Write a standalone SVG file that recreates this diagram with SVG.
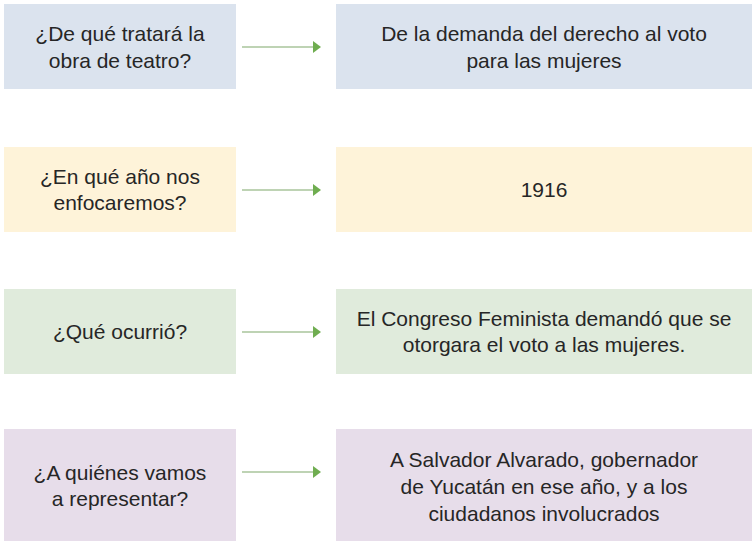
<svg xmlns="http://www.w3.org/2000/svg" width="752" height="541" viewBox="0 0 752 541">
<style>
.t{font-family:"Liberation Sans",Arial,sans-serif;font-size:21px;fill:#262626;text-anchor:middle}
.blue{fill:#dbe3ee}.yel{fill:#fef3d9}.grn{fill:#e0ebdc}.pur{fill:#e7ddea}
.c{stroke:#a9c59b;stroke-width:1.6;fill:none;marker-end:url(#ah)}
</style>
<defs>
<marker id="ah" viewBox="0 0 8 12" refX="1" refY="6" markerWidth="8" markerHeight="12" markerUnits="userSpaceOnUse" orient="auto">
<path d="M0,0 L8,6 L0,12 Z" fill="#6fad50"/>
</marker>
</defs>
<rect width="752" height="541" fill="#ffffff"/>
<g id="q1"><rect class="blue" x="4" y="4" width="232" height="85"/>
<text class="t" x="120" y="41">¿De qué tratará la</text><text class="t" x="120" y="68">obra de teatro?</text></g>
<g id="a1"><rect class="blue" x="336" y="4" width="416" height="85"/>
<text class="t" x="544" y="41">De la demanda del derecho al voto</text><text class="t" x="544" y="68">para las mujeres</text></g>
<g id="q2"><rect class="yel" x="4" y="147" width="232" height="85"/>
<text class="t" x="120" y="184">¿En qué año nos</text><text class="t" x="120" y="210">enfocaremos?</text></g>
<g id="a2"><rect class="yel" x="336" y="147" width="416" height="85"/>
<text class="t" x="544" y="197">1916</text></g>
<g id="q3"><rect class="grn" x="4" y="289" width="232" height="85"/>
<text class="t" x="120" y="339">¿Qué ocurrió?</text></g>
<g id="a3"><rect class="grn" x="336" y="289" width="416" height="85"/>
<text class="t" x="544" y="326">El Congreso Feminista demandó que se</text><text class="t" x="544" y="352">otorgara el voto a las mujeres.</text></g>
<g id="q4"><rect class="pur" x="4" y="429" width="232" height="112"/>
<text class="t" x="120" y="480">¿A quiénes vamos</text><text class="t" x="120" y="506">a representar?</text></g>
<g id="a4"><rect class="pur" x="336" y="429" width="416" height="112"/>
<text class="t" x="544" y="467">A Salvador Alvarado, gobernador</text><text class="t" x="544" y="494">de Yucatán en ese año, y a los</text><text class="t" x="544" y="521">ciudadanos involucrados</text></g>
<g id="connectors">
<line class="c" x1="242" y1="47" x2="314" y2="47"/>
<line class="c" x1="242" y1="190" x2="314" y2="190"/>
<line class="c" x1="242" y1="332" x2="314" y2="332"/>
<line class="c" x1="242" y1="472" x2="314" y2="472"/>
</g>
</svg>
